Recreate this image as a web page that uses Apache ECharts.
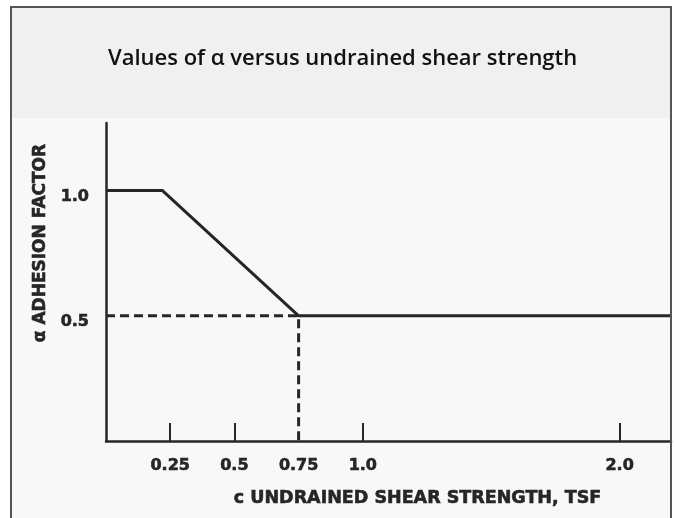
<!DOCTYPE html>
<html>
<head>
<meta charset="utf-8">
<style>
  html, body { margin: 0; padding: 0; background: #ffffff; }
  #chart { width: 675px; height: 518px; }
</style>
<script src="https://cdn.jsdelivr.net/npm/echarts@6/dist/echarts.min.js"></script>
</head>
<body>
<div id="chart"></div>
<script>
// Adhesion factor curve: alpha vs undrained shear strength (TSF)
const curveX = [0, 0.22, 0.75, 2.2];
const curveY = [1.0, 1.0, 0.5, 0.5];

// Dashed guide lines to the break point at c = 0.75 TSF
const guideX = [0, 0.75, 0.75];
const guideY = [0.5, 0.5, 0];

// Axis ticks and labels
const xTickValues = [0.25, 0.5, 1.0, 2.0];
const xLabelValues = [0.25, 0.5, 0.75, 1.0, 2.0];
const xLabelText = ['0.25', '0.5', '0.75', '1.0', '2.0'];
const yLabelValues = [0.5, 1.0];
const yLabelText = ['0.5', '1.0'];

const ink = '#262626';
const labelFont = 'DejaVu Sans';
const heavy = { textBorderColor: ink, textBorderWidth: 0.6 };

function pairs(xs, ys) {
  return xs.map((x, i) => [x, ys[i]]);
}
function lookup(values, texts, wrap) {
  return v => {
    const i = values.findIndex(t => Math.abs(t - v) < 1e-9);
    if (i < 0) return '';
    return wrap ? '{v|' + texts[i] + '}' : texts[i];
  };
}

const chart = echarts.init(document.getElementById('chart'), null, { renderer: 'canvas' });

chart.setOption({
  backgroundColor: '#ffffff',
  animation: false,
  graphic: [
    // panel backgrounds
    { type: 'rect', z: -10, shape: { x: 11, y: 7, width: 660, height: 111 }, style: { fill: '#f0f0f0' } },
    { type: 'rect', z: -10, shape: { x: 11, y: 118, width: 660, height: 400 }, style: { fill: '#f8f8f8' } },
    // frame (open at the bottom)
    { type: 'polyline', z: 10, shape: { points: [[11, 518], [11, 7], [671, 7], [671, 518]] },
      style: { stroke: '#555555', lineWidth: 2, fill: null } }
  ],
  title: {
    text: 'Values of α versus undrained shear strength',
    left: 103,
    top: 43,
    textStyle: { fontFamily: 'Open Sans', fontSize: 22, fontWeight: 600, color: '#111111' }
  },
  grid: { left: 106, right: 4, top: 123, bottom: 77, containLabel: false },
  xAxis: {
    type: 'value',
    min: 0,
    max: 2.2,
    name: 'c UNDRAINED SHEAR STRENGTH, TSF',
    nameLocation: 'middle',
    nameGap: 48,
    nameTextStyle: Object.assign({ fontFamily: labelFont, fontWeight: 'bold', fontSize: 17.5, color: ink, padding: [0, 0, 0, 58] }, heavy),
    axisLine: { show: true, lineStyle: { color: ink, width: 2.5 } },
    axisTick: { show: true, inside: true, length: 18, customValues: xTickValues, lineStyle: { color: ink, width: 2 } },
    axisLabel: Object.assign({
      customValues: xLabelValues,
      formatter: lookup(xLabelValues, xLabelText, false),
      margin: 17,
      fontFamily: labelFont, fontWeight: 'bold', fontSize: 16, color: ink
    }, heavy),
    splitLine: { show: false }
  },
  yAxis: {
    type: 'value',
    min: 0,
    max: 1.27,
    name: 'α ADHESION FACTOR',
    nameLocation: 'middle',
    nameGap: 52,
    nameRotate: 90,
    nameTextStyle: Object.assign({ fontFamily: labelFont, fontWeight: 'bold', fontSize: 17, color: ink, padding: [0, 0, 0, 78] }, heavy),
    axisLine: { show: true, lineStyle: { color: ink, width: 2.5 } },
    axisTick: { show: false },
    axisLabel: Object.assign({
      customValues: yLabelValues,
      formatter: lookup(yLabelValues, yLabelText, true),
      margin: 17,
      fontFamily: labelFont, fontWeight: 'bold', fontSize: 16, color: ink,
      rich: {
        v: Object.assign({ fontFamily: labelFont, fontWeight: 'bold', fontSize: 16, color: ink, padding: [12, 0, 0, 0] }, heavy)
      }
    }, heavy),
    splitLine: { show: false }
  },
  series: [
    {
      name: 'alpha',
      type: 'line',
      data: pairs(curveX, curveY),
      symbol: 'none',
      lineStyle: { color: ink, width: 3 },
      z: 3
    },
    {
      name: 'guide',
      type: 'line',
      data: pairs(guideX, guideY),
      symbol: 'none',
      lineStyle: { color: ink, width: 3, type: [9, 5] },
      z: 2
    }
  ]
});
</script>
</body>
</html>
